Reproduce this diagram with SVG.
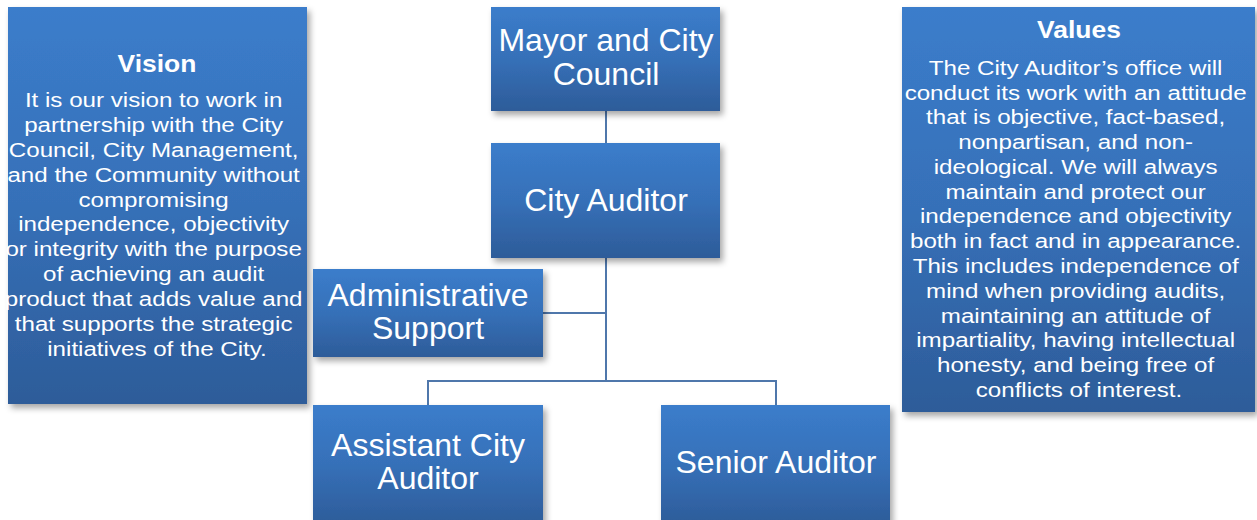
<svg xmlns="http://www.w3.org/2000/svg" width="1257" height="520" viewBox="0 0 1257 520">
<defs>
<linearGradient id="g" x1="0" y1="0" x2="0" y2="1">
<stop offset="0" stop-color="#3b7dcb"/>
<stop offset="0.5" stop-color="#3670b8"/>
<stop offset="1" stop-color="#2d5c99"/>
</linearGradient>
<filter id="sh" x="-10%" y="-10%" width="130%" height="130%">
<feDropShadow dx="3" dy="4" stdDeviation="3" flood-color="#000" flood-opacity="0.35"/>
</filter>
</defs>
<style>
.box{fill:url(#g);filter:url(#sh)}
.t{font-family:"Liberation Sans",Arial,sans-serif;fill:#fff;text-anchor:middle}
.n{font-size:32px}
.b{font-size:21px}
.h{font-size:23px;font-weight:bold}
.c{stroke:#4f77ab;stroke-width:2;fill:none}
</style>
<rect width="1257" height="520" fill="#fff"/>
<g id="connectors">
<path class="c" d="M606 111V143M606 258V381M543 313H606M428 405V381H776V405"/>
</g>
<g id="vision">
<rect class="box" x="8" y="7" width="299" height="397"/>
<g transform="translate(157 0) scale(1.15 1) translate(-157 0)">
<text class="t h" x="157" y="72">Vision</text>
<text class="t b">
<tspan x="157" y="107">It is our vision to work in</tspan>
<tspan x="157" y="132">partnership with the City</tspan>
<tspan x="157" y="157">Council, City Management,</tspan>
<tspan x="157" y="182">and the Community without</tspan>
<tspan x="157" y="207">compromising</tspan>
<tspan x="157" y="231">independence, objectivity</tspan>
<tspan x="157" y="256">or integrity with the purpose</tspan>
<tspan x="157" y="281">of achieving an audit</tspan>
<tspan x="157" y="306">product that adds value and</tspan>
<tspan x="157" y="331">that supports the strategic</tspan>
<tspan x="157" y="356">initiatives of the City.</tspan>
</text>
</g>
</g>
<g id="mayor">
<rect class="box" x="491" y="7" width="229" height="104"/>
<text class="t n"><tspan x="606" y="51">Mayor and City</tspan><tspan x="606" y="85">Council</tspan></text>
</g>
<g id="cityauditor">
<rect class="box" x="491" y="143" width="229" height="115"/>
<text class="t n" x="606" y="211">City Auditor</text>
</g>
<g id="admin">
<rect class="box" x="313" y="269" width="230" height="88"/>
<text class="t n"><tspan x="428" y="306">Administrative</tspan><tspan x="428" y="339">Support</tspan></text>
</g>
<g id="assistant">
<rect class="box" x="313" y="405" width="230" height="120"/>
<text class="t n"><tspan x="428" y="456">Assistant City</tspan><tspan x="428" y="489">Auditor</tspan></text>
</g>
<g id="senior">
<rect class="box" x="661" y="405" width="229" height="120"/>
<text class="t n" x="776" y="473">Senior Auditor</text>
</g>
<g id="values">
<rect class="box" x="902" y="7" width="353" height="405"/>
<g transform="translate(1079 0) scale(1.15 1) translate(-1079 0)">
<text class="t h" x="1079" y="38">Values</text>
<text class="t b">
<tspan x="1079" y="75">The City Auditor’s office will</tspan>
<tspan x="1079" y="100">conduct its work with an attitude</tspan>
<tspan x="1079" y="124">that is objective, fact-based,</tspan>
<tspan x="1079" y="149">nonpartisan, and non-</tspan>
<tspan x="1079" y="174">ideological. We will always</tspan>
<tspan x="1079" y="199">maintain and protect our</tspan>
<tspan x="1079" y="223">independence and objectivity</tspan>
<tspan x="1079" y="248">both in fact and in appearance.</tspan>
<tspan x="1079" y="273">This includes independence of</tspan>
<tspan x="1079" y="298">mind when providing audits,</tspan>
<tspan x="1079" y="323">maintaining an attitude of</tspan>
<tspan x="1079" y="347">impartiality, having intellectual</tspan>
<tspan x="1079" y="372">honesty, and being free of</tspan>
<tspan x="1079" y="397">conflicts of interest.</tspan>
</text>
</g>
</g>
</svg>
